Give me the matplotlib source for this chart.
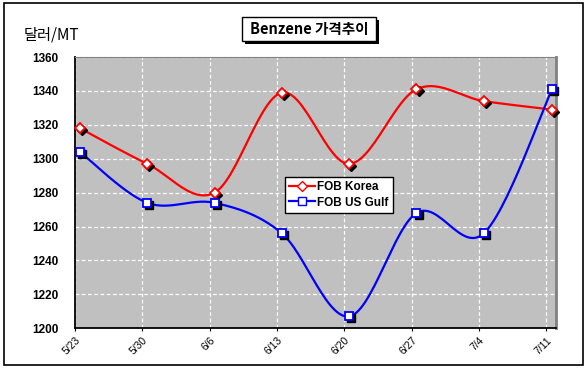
import numpy as np
import matplotlib.pyplot as plt
import matplotlib.transforms as mtransforms
from matplotlib.patches import Rectangle

plt.rcParams['font.family'] = ['Liberation Sans', 'Noto Sans CJK KR', 'DejaVu Sans']

# weekly tick labels and data (day offset from 5/23)
tick_labels = ["5/23", "5/30", "6/6", "6/13", "6/20", "6/27", "7/4", "7/11"]
tick_days = [0, 7, 14, 21, 28, 35, 42, 49]
point_days = [0.5, 7.5, 14.5, 21.5, 28.5, 35.5, 42.5, 49.6]
fob_korea = [1318, 1297, 1280, 1339, 1297, 1341, 1334, 1329]
fob_us_gulf = [1304, 1274, 1274, 1256, 1207, 1268, 1256, 1341]


def smooth(x, y, n=30):
    # Excel-like smoothed line (Bezier through the points)
    x = np.asarray(x, float)
    y = np.asarray(y, float)
    xs, ys = [], []
    for i in range(len(x) - 1):
        x0 = x[i - 1] if i > 0 else x[i]
        y0 = y[i - 1] if i > 0 else y[i]
        x3 = x[i + 2] if i + 2 < len(x) else x[i + 1]
        y3 = y[i + 2] if i + 2 < len(y) else y[i + 1]
        c1x = x[i] + (x[i + 1] - x0) / 6
        c1y = y[i] + (y[i + 1] - y0) / 6
        c2x = x[i + 1] - (x3 - x[i]) / 6
        c2y = y[i + 1] - (y3 - y[i]) / 6
        t = np.linspace(0, 1, n)
        xs.append((1-t)**3*x[i] + 3*(1-t)**2*t*c1x + 3*(1-t)*t**2*c2x + t**3*x[i+1])
        ys.append((1-t)**3*y[i] + 3*(1-t)**2*t*c1y + 3*(1-t)*t**2*c2y + t**3*y[i+1])
    return np.concatenate(xs), np.concatenate(ys)


fig = plt.figure(figsize=(5.87, 3.68), dpi=100)
fig.patches.append(Rectangle((0.007, 0.008), 0.986, 0.984, transform=fig.transFigure,
                             fill=False, edgecolor='black', linewidth=1.2))

ax = fig.add_axes([0.128, 0.108, 0.819, 0.737])
ax.set_facecolor('#C0C0C0')
ax.set_xlim(0, 50)
ax.set_ylim(1200, 1360)
ax.set_yticks(range(1200, 1361, 20))
ax.set_xticks(tick_days)
ax.set_xticklabels(tick_labels, rotation=45, ha='right', va='top',
                   rotation_mode='anchor', fontsize=7.5)
ax.grid(True, color='white', linestyle=(0, (3, 2)), linewidth=0.9)
ax.set_axisbelow(True)
for lab in ax.get_yticklabels():
    lab.set_fontweight('bold')
    lab.set_fontsize(8.5)
ax.tick_params(axis='y', length=0, pad=12)
ax.tick_params(axis='x', length=2, pad=3, direction='out')
ax.spines['left'].set_linewidth(1.3)
ax.spines['bottom'].set_linewidth(1.3)
ax.spines['top'].set_color('#808080')
ax.spines['right'].set_color('#808080')
ax.spines['right'].set_linewidth(2)

shadow = mtransforms.offset_copy(ax.transData, fig=fig, x=1.5, y=-1.5, units='points')

series = [
    (fob_korea, 'red', 'D', 'FOB Korea', 5.5),
    (fob_us_gulf, 'blue', 's', 'FOB US Gulf', 6),
]
for vals, col, mk, name, ms in series:
    sx, sy = smooth(point_days, vals)
    ax.plot(sx, sy, color=col, linewidth=1.6, zorder=3)
    ax.plot(point_days, vals, linestyle='none', marker=mk, markersize=ms,
            color='black', transform=shadow, zorder=4, clip_on=False)
    ax.plot(point_days, vals, linestyle='none', marker=mk, markersize=ms,
            markerfacecolor='white', markeredgecolor=col, markeredgewidth=1.3,
            zorder=5, clip_on=False)
    ax.plot([], [], color=col, marker=mk, markersize=ms, markerfacecolor='white',
            markeredgecolor=col, linewidth=1.6, label=name)

leg = ax.legend(loc='upper left', bbox_to_anchor=(0.424, 0.58), frameon=True,
                fancybox=False, edgecolor='black', framealpha=1,
                prop={'weight': 'bold', 'size': 8.5}, handlelength=2.2,
                handletextpad=0.2, borderpad=0.35, labelspacing=0.3)
leg.get_frame().set_linewidth(1.0)

# title box with shadow
fig.patches.append(Rectangle((0.417, 0.881), 0.228, 0.065, transform=fig.transFigure,
                             facecolor='black', edgecolor='none', zorder=1))
fig.patches.append(Rectangle((0.412, 0.889), 0.228, 0.065, transform=fig.transFigure,
                             facecolor='white', edgecolor='black', linewidth=1.0, zorder=2))
fig.text(0.526, 0.921, "Benzene 가격추이", ha='center', va='center',
         fontsize=10.5, fontweight='bold', zorder=3,
         family=['Noto Sans CJK KR', 'DejaVu Sans'])

fig.text(0.04, 0.905, "달러/MT", ha='left', va='center', fontsize=11,
         fontweight='medium', family=['Noto Sans CJK KR', 'DejaVu Sans'])

fig.savefig('out.png', dpi=100)
